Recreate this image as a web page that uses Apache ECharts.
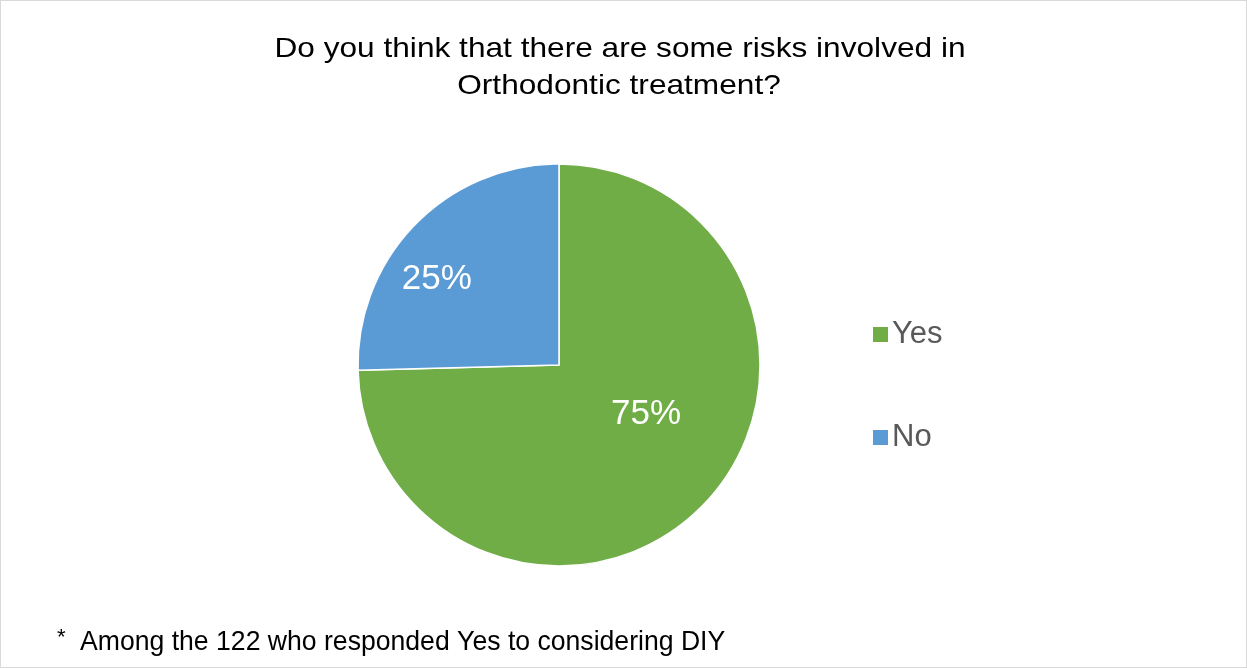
<!DOCTYPE html>
<html>
<head>
<meta charset="utf-8">
<script src="https://cdn.jsdelivr.net/npm/echarts@6/dist/echarts.min.js"></script>
<style>
html,body{margin:0;padding:0;background:#fff;}
#wrap{position:absolute;left:0;top:0;width:1245px;height:666px;border:1px solid #d9d9d9;}
#chart{width:1245px;height:666px;}
</style>
</head>
<body>
<div id="wrap"><div id="chart"></div></div>
<script>
const titleLines = ["Do you think that there are some risks involved in", "Orthodontic treatment?"];
const footnoteText = "Among the 122 who responded Yes to considering DIY";
const categories = ["Yes", "No"];
const counts = [91, 31];
const colors = ["#70AD47", "#5B9BD5"];

// label nudges from default inner position (style only)
const labelShift = [[13, -23], [-48, -13]];

const chart = echarts.init(document.getElementById('chart'), null, {renderer: 'canvas'});
const font = '"Liberation Sans", Arial, sans-serif';
const option = {
  animation: false,
  backgroundColor: '#ffffff',
  graphic: [
    {
      type: 'text', x: 619, y: 48, scaleX: 1.13, silent: true,
      style: {text: titleLines[0], font: '28px "Liberation Sans", Arial, sans-serif', fill: '#000', textAlign: 'center', textVerticalAlign: 'middle'}
    },
    {
      type: 'text', x: 618, y: 85.5, scaleX: 1.13, silent: true,
      style: {text: titleLines[1], font: '28px "Liberation Sans", Arial, sans-serif', fill: '#000', textAlign: 'center', textVerticalAlign: 'middle'}
    },
    {
      type: 'text', x: 56, y: 626, silent: true,
      style: {text: '*', font: '22px "Liberation Sans", Arial, sans-serif', fill: '#000', textAlign: 'left', textVerticalAlign: 'top'}
    },
    {
      type: 'text', x: 79, y: 641, scaleX: 0.95, silent: true,
      style: {text: footnoteText, font: '28px "Liberation Sans", Arial, sans-serif', fill: '#000', textAlign: 'left', textVerticalAlign: 'middle'}
    }
  ],
  legend: {
    orient: 'vertical',
    left: 865, top: 313,
    itemWidth: 17, itemHeight: 17,
    itemGap: 72,
    icon: 'rect',
    data: categories,
    textStyle: {fontFamily: font, fontSize: 31, color: '#595959', padding: [0, 0, 0, -2]}
  },
  series: [{
    type: 'pie',
    center: [558, 364],
    radius: [0, 201],
    startAngle: 90,
    clockwise: true,
    avoidLabelOverlap: false,
    itemStyle: {borderColor: '#ffffff', borderWidth: 1.5},
    label: {
      show: true,
      position: 'inner',
      formatter: function (p) { return Math.round(p.percent) + '%'; },
      fontFamily: font, fontSize: 35, color: '#ffffff'
    },
    labelLine: {show: false},
    labelLayout: function (p) {
      const s = labelShift[p.dataIndex];
      return {dx: s[0], dy: s[1]};
    },
    emphasis: {disabled: true},
    data: categories.map((c, i) => ({name: c, value: counts[i], itemStyle: {color: colors[i]}}))
  }]
};
chart.setOption(option);
</script>
</body>
</html>
